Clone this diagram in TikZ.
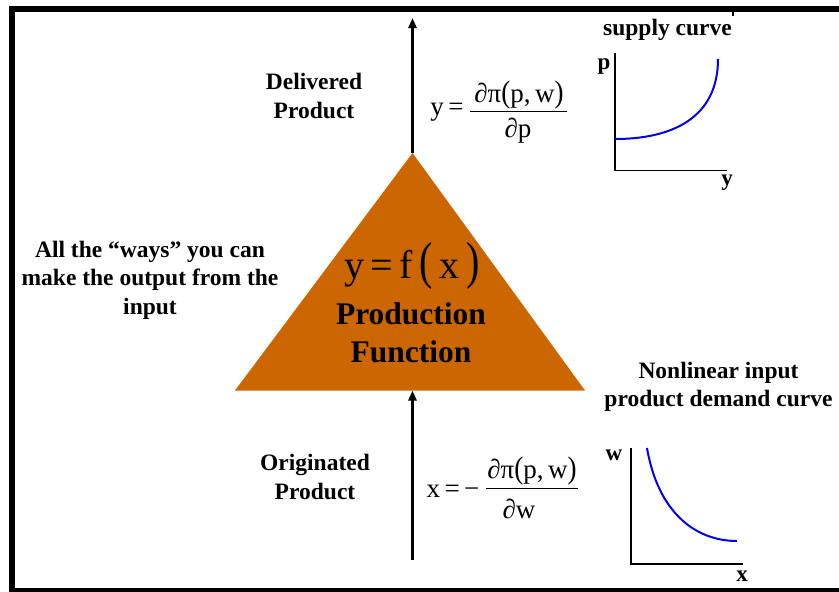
\documentclass[tikz,border=0pt]{standalone}
\usepackage{fontspec}
\setmainfont{Liberation Serif}
\usepackage{graphicx}
\usetikzlibrary{arrows.meta}
\definecolor{prodorange}{HTML}{CC6600}
\definecolor{curveblue}{HTML}{0000F0}
\tikzset{
  lbl/.style={font=\bfseries\fontsize{23.5}{28.5}\selectfont, align=center, inner sep=0pt},
  axlbl/.style={font=\bfseries\fontsize{23}{26}\selectfont, inner sep=0pt},
  eqtxt/.style={font=\fontsize{27}{30}\selectfont, inner sep=0pt},
  flow/.style={line width=2.7pt, -{Triangle[width=8pt,length=10pt]}},
  axis/.style={line width=1.4pt},
  curve/.style={line width=2pt, curveblue},
  border/.style={fill=black}
}
\begin{document}
\begin{tikzpicture}[x=1pt,y=-1pt]
\useasboundingbox (0,0) rectangle (839,592);
% border
\fill[border] (9,6) rectangle (839,12);
\fill[border] (9,6) rectangle (15,592);
\fill[border] (9,587.5) rectangle (839,592);
\fill[border] (731.5,12) rectangle (734,15.5);
% triangle
\coordinate (apex) at (412.5,153);
\coordinate (bl) at (235,390.5);
\coordinate (br) at (585,390.5);
\coordinate (basemid) at (412.5,390.5);
\fill[prodorange] (apex) -- (br) -- (bl) -- cycle;
\coordinate (toptip) at (412.5,18);
\coordinate (botstart) at (412.5,560);
\draw[flow] (apex) -- (toptip);
\draw[flow] (botstart) -- (basemid);
% triangle text
\node[inner sep=0pt, font=\fontsize{40}{42}\selectfont] (fx) at (412,266)
  {y\,=\,f\,\scalebox{1}[1.3]{(}\,x\,\scalebox{1}[1.3]{)}};
\node[inner sep=0pt, align=center, font=\bfseries\fontsize{31.5}{38}\selectfont] (pf) at (411,333) {Production\\Function};
% labels
\node[lbl] (deliv) at (314,96) {Delivered\\Product};
\node[lbl] (orig) at (315,477) {Originated\\Product};
\node[lbl] (ways) at (150,280) {All the “ways” you can\\make the output from the\\input};
% top equation
\node[eqtxt] (ylhs) at (447,112) {y\,=};
\node[eqtxt] (ynum) at (519,95) {∂π\scalebox{1}[1.15]{(}p,\,w\scalebox{1}[1.15]{)}};
\node[eqtxt] (yden) at (518,131) {∂p};
\coordinate (yl1) at (470,111);
\coordinate (yl2) at (567,111);
\draw[line width=1pt] (yl1) -- (yl2);
% bottom equation
\node[eqtxt] (xlhs) at (453,491) {x\,=\,−};
\node[eqtxt] (xnum) at (532,471) {∂π\scalebox{1}[1.15]{(}p,\,w\scalebox{1}[1.15]{)}};
\node[eqtxt] (xden) at (519,509) {∂w};
\coordinate (xl1) at (486,488);
\coordinate (xl2) at (578,488);
\draw[line width=1pt] (xl1) -- (xl2);
% supply chart
\node[lbl] (supt) at (667.5,30) {supply curve};
\coordinate (so) at (615,170.5);
\coordinate (sy) at (615,53);
\coordinate (sx) at (727,170.5);
\draw[axis] (sy) -- (so) -- (sx);
\node[axlbl] (sp) at (604,67) {p};
\node[axlbl] (syl) at (727,183) {y};
\coordinate (sc1) at (615,139);
\coordinate (sc2) at (718,59);
\draw[curve] (sc1) .. controls (672,139) and (718,118) .. (sc2);
% demand chart
\node[lbl] (demt) at (718.5,387) {Nonlinear input\\product demand curve};
\coordinate (do) at (631,564);
\coordinate (dy) at (631,448);
\coordinate (dx) at (743,564);
\draw[axis] (dy) -- (do) -- (dx);
\node[axlbl] (dw) at (614,455) {w};
\node[axlbl] (dxl) at (742,576) {x};
\coordinate (dc1) at (647,448);
\coordinate (dc2) at (737,541);
\draw[curve] (dc1) .. controls (658,512) and (695,541) .. (dc2);
\end{tikzpicture}
\end{document}
